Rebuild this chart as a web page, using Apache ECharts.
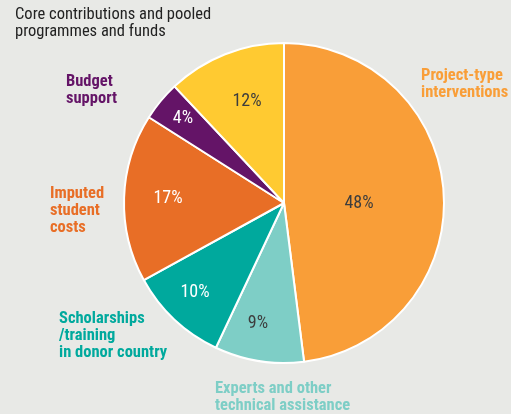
<!DOCTYPE html>
<html>
<head>
<meta charset="utf-8">
<script src="https://cdn.jsdelivr.net/npm/echarts@6/dist/echarts.min.js"></script>
<style>
  html, body { margin: 0; padding: 0; background: #e8e9e6; }
  #chart { width: 511px; height: 414px; }
</style>
</head>
<body>
<div id="chart"></div>
<script>
// Shares of aid by type, clockwise from 12 o'clock
const categories = [
  'Project-type\ninterventions',
  'Experts and other\ntechnical assistance',
  'Scholarships\n/training\nin donor country',
  'Imputed\nstudent\ncosts',
  'Budget\nsupport',
  'Core contributions and pooled\nprogrammes and funds'
];
const shares = [48, 9, 10, 17, 4, 12];

const sliceColors = ['#f99e38', '#7ecec6', '#00a99d', '#e86e26', '#641467', '#ffca31'];
const pctColors = ['#3d3d3d', '#3d3d3d', '#ffffff', '#ffffff', '#ffffff', '#3d3d3d'];
const nameColors = ['#f99e38', '#7ecec6', '#00a99d', '#e86e26', '#641467', '#222222'];

// Placement of the percentage labels and the category captions (pixels)
const pctPos = [[359, 203], [258, 323], [195, 292], [168, 198], [183, 118], [247, 101]];
const namePos = [[421, 67], [215, 380], [59, 310], [50, 185], [66, 73], [15, 6]];

const chart = echarts.init(document.getElementById('chart'), null, { renderer: 'canvas' });

const NARROW = '"Liberation Sans Narrow", "Roboto Condensed", Roboto, sans-serif';

chart.setOption({
  backgroundColor: '#e8e9e6',
  animation: false,
  series: [{
    type: 'pie',
    center: [284, 203],
    radius: [0, 160],
    startAngle: 90,
    clockwise: true,
    data: shares.map((v, i) => ({
      value: v,
      name: categories[i],
      itemStyle: { color: sliceColors[i] },
      label: { color: pctColors[i] }
    })),
    itemStyle: { borderColor: '#ffffff', borderWidth: 2 },
    label: {
      show: true,
      position: 'inside',
      formatter: p => p.value + '%',
      fontFamily: NARROW,
      fontSize: 18,
      align: 'center',
      verticalAlign: 'middle'
    },
    labelLine: { show: false },
    labelLayout: p => ({ x: pctPos[p.dataIndex][0], y: pctPos[p.dataIndex][1] }),
    emphasis: { disabled: true }
  }],
  graphic: categories.map((name, i) => ({
    type: 'text',
    left: namePos[i][0],
    top: namePos[i][1],
    style: {
      text: name,
      fill: nameColors[i],
      font: (i === 5 ? 'normal 16.5px ' : 'bold 16.5px ') + NARROW,
      lineHeight: 17
    }
  }))
});
</script>
</body>
</html>
